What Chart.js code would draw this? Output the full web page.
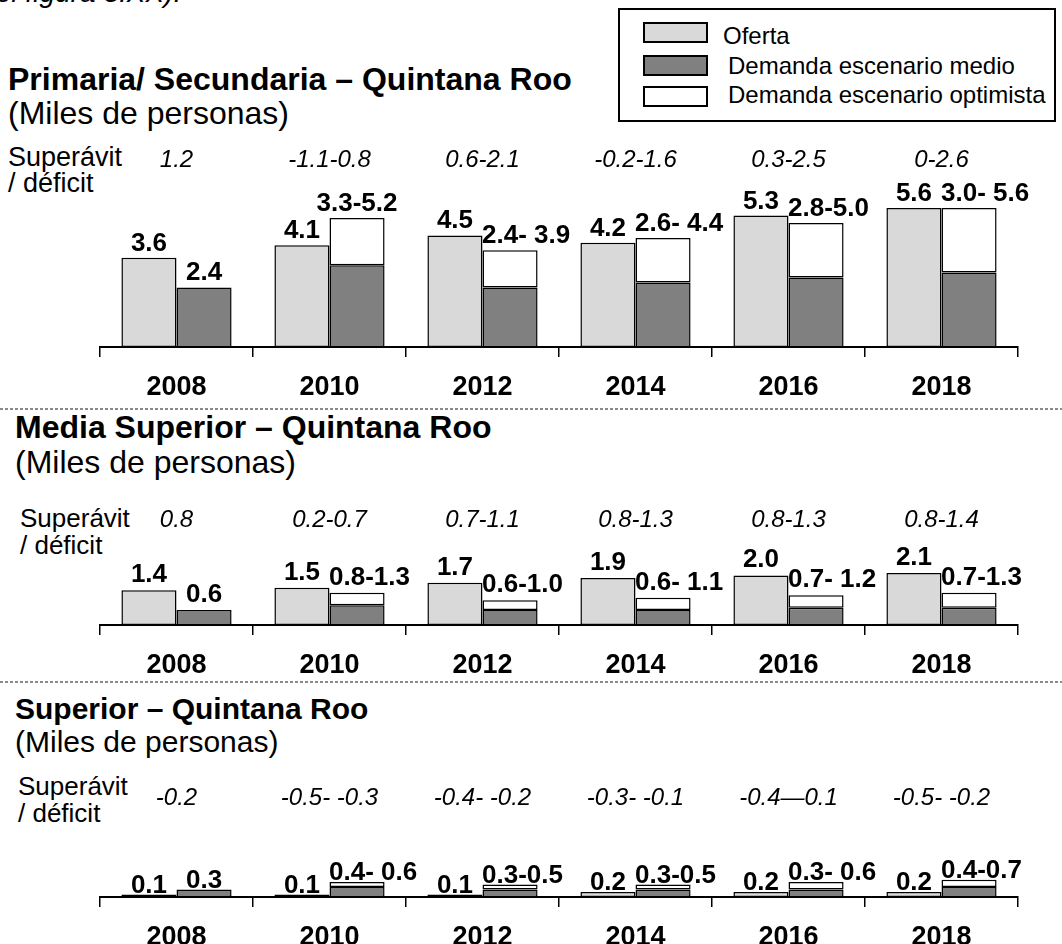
<!DOCTYPE html>
<html>
<head>
<meta charset="utf-8">
<script src="https://cdn.jsdelivr.net/npm/chart.js@4.4.1/dist/chart.umd.min.js"></script>
<style>
  html, body { margin:0; padding:0; background:#fff; overflow:hidden; }
  body { width:1062px; height:944px; position:relative; font-family:"Liberation Sans", Arial, sans-serif; color:#000; }
  .t { position:absolute; white-space:pre; line-height:1; }
  .title { font-weight:bold; }
  .sep { position:absolute; left:0; width:1062px; height:2px;
         background:repeating-linear-gradient(to right, #8a8a8a 0 3px, transparent 3px 5px); }
  canvas.c { position:absolute; left:0; }
  #legend { position:absolute; left:618px; top:8px; width:434px; height:110px; border:2px solid #000; }
  .sw { position:absolute; left:23px; width:61px; height:17px; border:2px solid #000; }
  .lt { position:absolute; font-size:24px; line-height:1; white-space:pre; }
</style>
</head>
<body>
<div class="t" style="left:-4px; top:-21px; font-size:28px; font-style:italic;">el figura 3.XX).</div>

<div id="legend">
  <div class="sw" style="top:12px; background:#d9d9d9;"></div>
  <div class="lt" style="left:103px; top:14px;">Oferta</div>
  <div class="sw" style="top:45px; background:#808080;"></div>
  <div class="lt" style="left:108px; top:44px;">Demanda escenario medio</div>
  <div class="sw" style="top:76px; background:#fff;"></div>
  <div class="lt" style="left:108px; top:73px;">Demanda escenario optimista</div>
</div>

<!-- Panel 1 -->
<div class="t title" style="left:8px; top:63px; font-size:32px;">Primaria/ Secundaria – Quintana Roo</div>
<div class="t" style="left:8px; top:97px; font-size:32px;">(Miles de personas)</div>
<div class="t" style="left:8px; top:144px; font-size:27px;">Superávit</div>
<div class="t" style="left:8px; top:170px; font-size:27px;">/ déficit</div>
<canvas id="c1" class="c" style="top:140px;" width="1062" height="267"></canvas>

<div class="sep" style="top:408px;"></div>

<!-- Panel 2 -->
<div class="t title" style="left:15px; top:411px; font-size:32px;">Media Superior – Quintana Roo</div>
<div class="t" style="left:15px; top:446px; font-size:32px;">(Miles de personas)</div>
<div class="t" style="left:20px; top:505px; font-size:26px;">Superávit</div>
<div class="t" style="left:20px; top:532px; font-size:26px;">/ déficit</div>
<canvas id="c2" class="c" style="top:495px;" width="1062" height="190"></canvas>

<div class="sep" style="top:681px;"></div>

<!-- Panel 3 -->
<div class="t title" style="left:15px; top:694px; font-size:30px;">Superior – Quintana Roo</div>
<div class="t" style="left:15px; top:727px; font-size:30px;">(Miles de personas)</div>
<div class="t" style="left:18px; top:773px; font-size:26px;">Superávit</div>
<div class="t" style="left:18px; top:800px; font-size:26px;">/ déficit</div>
<canvas id="c3" class="c" style="top:770px;" width="1062" height="187"></canvas>

<script>
// ---------- DATA ----------
const years = ['2008', '2010', '2012', '2014', '2016', '2018'];

// Primaria / Secundaria
const p1Oferta     = [3.6, 4.1, 4.5, 4.2, 5.3, 5.6];
const p1Medio      = [2.4, 3.3, 2.4, 2.6, 2.8, 3.0];
const p1Optimista  = [null, 5.2, 3.9, 4.4, 5.0, 5.6];
const p1OfertaLbl  = ['3.6', '4.1', '4.5', '4.2', '5.3', '5.6'];
const p1DemandaLbl = ['2.4', '3.3-5.2', '2.4- 3.9', '2.6- 4.4', '2.8-5.0', '3.0- 5.6'];
const p1Balance    = ['1.2', '-1.1-0.8', '0.6-2.1', '-0.2-1.6', '0.3-2.5', '0-2.6'];

// Media Superior
const p2Oferta     = [1.4, 1.5, 1.7, 1.9, 2.0, 2.1];
const p2Medio      = [0.6, 0.8, 0.6, 0.6, 0.7, 0.7];
const p2Optimista  = [null, 1.3, 1.0, 1.1, 1.2, 1.3];
const p2OfertaLbl  = ['1.4', '1.5', '1.7', '1.9', '2.0', '2.1'];
const p2DemandaLbl = ['0.6', '0.8-1.3', '0.6-1.0', '0.6- 1.1', '0.7- 1.2', '0.7-1.3'];
const p2Balance    = ['0.8', '0.2-0.7', '0.7-1.1', '0.8-1.3', '0.8-1.3', '0.8-1.4'];

// Superior
const p3Oferta     = [0.1, 0.1, 0.1, 0.2, 0.2, 0.2];
const p3Medio      = [0.3, 0.4, 0.3, 0.3, 0.3, 0.4];
const p3Optimista  = [null, 0.6, 0.5, 0.5, 0.6, 0.7];
const p3OfertaLbl  = ['0.1', '0.1', '0.1', '0.2', '0.2', '0.2'];
const p3DemandaLbl = ['0.3', '0.4- 0.6', '0.3-0.5', '0.3-0.5', '0.3- 0.6', '0.4-0.7'];
const p3Balance    = ['-0.2', '-0.5- -0.3', '-0.4- -0.2', '-0.3- -0.1', '-0.4—0.1', '-0.5- -0.2'];

// ---------- RENDER ----------
const FONT = '"Liberation Sans", Arial, sans-serif';
const PX_PER_UNIT = 24.8;
const AXIS_H = 60;
const LBL_SIZE = 26;

const labelPlugin = {
  id: 'barLabels',
  afterDatasetsDraw(chart, args, o) {
    const ctx = chart.ctx;
    const m0 = chart.getDatasetMeta(0), m1 = chart.getDatasetMeta(1), m2 = chart.getDatasetMeta(2);
    const optData = chart.data.datasets[2].data;
    const capH = LBL_SIZE * 0.72;
    ctx.save();
    ctx.fillStyle = '#000';
    ctx.textBaseline = 'alphabetic';
    ctx.font = 'bold ' + LBL_SIZE + 'px ' + FONT;
    ctx.textAlign = 'left';
    o.ofertaLabels.forEach((t, i) => {
      const b = m0.data[i];
      const w = ctx.measureText(t).width;
      const by = b.y - o.gap;
      const oLeft = b.x - w / 2;
      ctx.fillText(t, oLeft, by);
      // demanda label: centred over its bar, pushed right if it would collide with the oferta label
      const d = o.demandaLabels[i];
      const dw = ctx.measureText(d).width;
      const top = optData[i] != null ? m2.data[i].y : m1.data[i].y;
      const dy = top - o.gap;
      let dLeft = m1.data[i].x - dw / 2;
      const vOverlap = !(dy < by - capH - 2 || dy - capH - 2 > by);
      if (vOverlap) dLeft = Math.max(dLeft, oLeft + w + 9);
      ctx.fillText(d, dLeft, dy);
    });
    ctx.textAlign = 'center';
    ctx.font = 'italic 24px ' + FONT;
    const xs = chart.scales.x;
    o.balance.forEach((t, i) => ctx.fillText(t, xs.getPixelForValue(i), o.balanceY));
    ctx.restore();
  }
};

function makeChart(id, oferta, medio, optimista, ofertaLbl, demandaLbl, balance, padTop, gap, balanceY) {
  const canvas = document.getElementById(id);
  const areaH = canvas.height - padTop - AXIS_H;
  const yMax = areaH / PX_PER_UNIT;
  const optExtra = optimista.map((v, i) => v == null ? null : Math.round((v - medio[i]) * 100) / 100);
  const common = { borderColor: '#000', borderWidth: 1.5, borderSkipped: false,
                   categoryPercentage: 0.72, barPercentage: 1.0 };
  return new Chart(canvas, {
    type: 'bar',
    data: {
      labels: years,
      datasets: [
        Object.assign({ label: 'Oferta', data: oferta, backgroundColor: '#d9d9d9', stack: 'o' }, common),
        Object.assign({ label: 'Demanda escenario medio', data: medio, backgroundColor: '#808080', stack: 'd' }, common),
        Object.assign({ label: 'Demanda escenario optimista', data: optExtra, backgroundColor: '#ffffff', stack: 'd' }, common)
      ]
    },
    options: {
      responsive: false,
      animation: false,
      layout: { padding: { top: padTop, left: 100, right: 44, bottom: 0 } },
      plugins: {
        legend: { display: false },
        tooltip: { enabled: false },
        barLabels: { ofertaLabels: ofertaLbl, demandaLabels: demandaLbl, balance: balance, gap: gap, balanceY: balanceY }
      },
      scales: {
        x: {
          stacked: true,
          grid: { display: true, drawOnChartArea: false, drawTicks: true, tickLength: 10,
                  color: '#000', lineWidth: 1.5, offset: true },
          border: { display: true, color: '#000', width: 2 },
          ticks: { color: '#000', padding: 14, font: { family: FONT, size: 27, weight: 'bold' } },
          afterFit(scale) { scale.height = AXIS_H; }
        },
        y: { stacked: true, display: false, min: 0, max: yMax }
      }
    },
    plugins: [labelPlugin]
  });
}

makeChart('c1', p1Oferta, p1Medio, p1Optimista, p1OfertaLbl, p1DemandaLbl, p1Balance, 32, 7, 27);
makeChart('c2', p2Oferta, p2Medio, p2Optimista, p2OfertaLbl, p2DemandaLbl, p2Balance, 65, 8, 32);
makeChart('c3', p3Oferta, p3Medio, p3Optimista, p3OfertaLbl, p3DemandaLbl, p3Balance, 90, 2, 35);
</script>
</body>
</html>
